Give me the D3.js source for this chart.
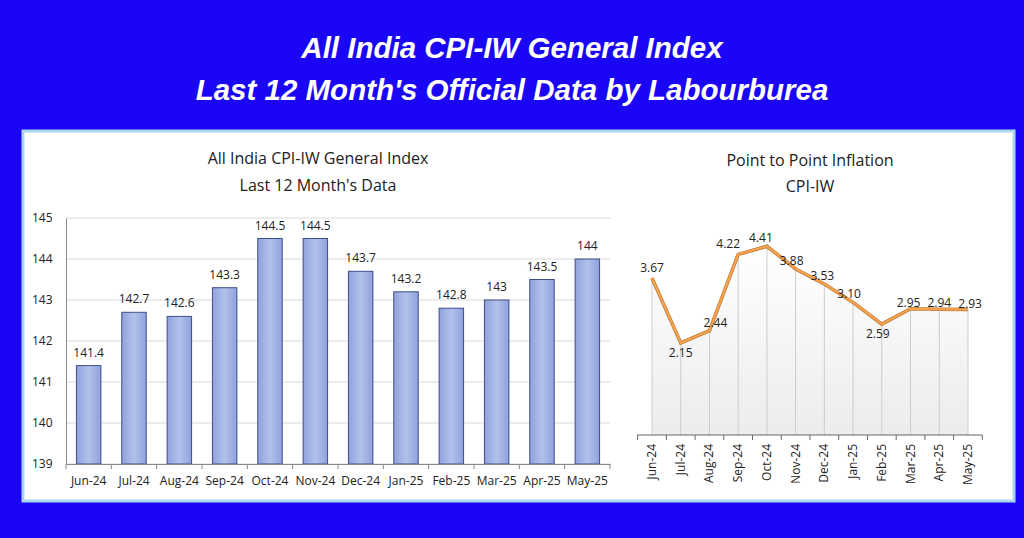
<!DOCTYPE html><html><head><script src="https://cdn.jsdelivr.net/npm/d3@7"></script>
<style>body{margin:0;background:#1a06f5;}</style></head><body><svg id="c" width="1024" height="538"></svg>
<script>
const months=["Jun-24","Jul-24","Aug-24","Sep-24","Oct-24","Nov-24","Dec-24","Jan-25","Feb-25","Mar-25","Apr-25","May-25"];
const indexValues=[141.4,142.7,142.6,143.3,144.5,144.5,143.7,143.2,142.8,143,143.5,144];
const indexLabels=["141.4","142.7","142.6","143.3","144.5","144.5","143.7","143.2","142.8","143","143.5","144"];
const inflation=[3.67,2.15,2.44,4.22,4.41,3.88,3.53,3.10,2.59,2.95,2.94,2.93];
const inflationLabels=["3.67","2.15","2.44","4.22","4.41","3.88","3.53","3.10","2.59","2.95","2.94","2.93"];
const yTicks=[139,140,141,142,143,144,145];

const svg=d3.select("#c");
svg.append("rect").attr("width",1024).attr("height",538).attr("fill","#1a06f5");
const tf="Liberation Sans, Arial, sans-serif";
svg.append("text").attr("x",512).attr("y",58).attr("text-anchor","middle").attr("fill","#fff").attr("font-family",tf).attr("font-weight","bold").attr("font-style","italic").attr("font-size",29.5).text("All India CPI-IW General Index");
svg.append("text").attr("x",512).attr("y",100).attr("text-anchor","middle").attr("fill","#fff").attr("font-family",tf).attr("font-weight","bold").attr("font-style","italic").attr("font-size",29.5).text("Last 12 Month's Official Data by Labourburea");
svg.append("rect").attr("x",23).attr("y",131).attr("width",991).attr("height",370).attr("fill","#fff").attr("stroke","#a8d8f0").attr("stroke-width",3);

const ff="Open Sans, Noto Sans, sans-serif";
const x=d3.scaleBand().domain(months).range([66,610]).paddingInner(0.46).paddingOuter(0.23);
const y=d3.scaleLinear().domain([139,145]).range([464,218]);
const g=svg.append("g");
g.selectAll(".gl").data(yTicks).join("line").attr("x1",66).attr("x2",610).attr("y1",d=>y(d)).attr("y2",d=>y(d)).attr("stroke","#d9d9d9");
const defs=svg.append("defs");
const grad=defs.append("linearGradient").attr("id","bg").attr("x1",0).attr("x2",1);
grad.append("stop").attr("offset",0).attr("stop-color","#8ea2dc");
grad.append("stop").attr("offset",0.5).attr("stop-color","#b3c1ea");
grad.append("stop").attr("offset",1).attr("stop-color","#8ea2dc");
g.selectAll(".b").data(months).join("rect").attr("x",d=>x(d)).attr("width",x.bandwidth()).attr("y",(d,i)=>y(indexValues[i])).attr("height",(d,i)=>y(139)-y(indexValues[i])).attr("fill","url(#bg)").attr("stroke","#3f4f8a").attr("stroke-width",1);
g.selectAll(".bl").data(months).join("text").attr("x",d=>x(d)+x.bandwidth()/2).attr("y",(d,i)=>y(indexValues[i])-9).attr("text-anchor","middle").attr("font-family",ff).attr("font-size",12).attr("fill","#222").text((d,i)=>indexLabels[i]);
const ya=g.append("g").attr("transform","translate(66,0)").call(d3.axisLeft(y).tickValues(yTicks).tickFormat(d3.format("d")).tickSize(0).tickPadding(10));
ya.select(".domain").attr("stroke","#888");
ya.selectAll("text").attr("font-family",ff).attr("font-size",12).attr("fill","#222").attr("text-anchor","start").attr("x",-34);
const xa=g.append("g").attr("transform","translate(0,464)").call(d3.axisBottom(x).tickSize(0).tickPadding(12));
xa.select(".domain").attr("stroke","#888");
xa.selectAll("text").attr("font-family",ff).attr("font-size",12).attr("fill","#222");
g.selectAll(".xt").data(d3.range(13)).join("line").attr("x1",d=>66+d*544/12).attr("x2",d=>66+d*544/12).attr("y1",464).attr("y2",469).attr("stroke","#888");
svg.append("text").attr("x",318).attr("y",164).attr("text-anchor","middle").attr("font-family",ff).attr("font-size",16).attr("fill","#222").text("All India CPI-IW General Index");
svg.append("text").attr("x",318).attr("y",191).attr("text-anchor","middle").attr("font-family",ff).attr("font-size",16).attr("fill","#222").text("Last 12 Month's Data");

const x2=d3.scalePoint().domain(months).range([652,968]);
const y2=d3.scaleLinear().domain([0,5]).range([435,221]);
const gb=defs.append("linearGradient").attr("id","fade").attr("x1",0).attr("x2",0).attr("y1",0).attr("y2",1);
gb.append("stop").attr("offset",0).attr("stop-color","#fff");
gb.append("stop").attr("offset",1).attr("stop-color","#ececec");
const area=d3.area().x((d,i)=>x2(months[i])).y0(435).y1(d=>y2(d));
svg.append("path").datum(inflation).attr("d",area).attr("fill","url(#fade)");
svg.selectAll(".vl").data(months).join("line").attr("x1",d=>x2(d)).attr("x2",d=>x2(d)).attr("y1",435).attr("y2",(d,i)=>y2(inflation[i])).attr("stroke","#ccc");
const ln=d3.line().x((d,i)=>x2(months[i])).y(d=>y2(d));
svg.append("path").datum(inflation).attr("d",ln).attr("fill","none").attr("stroke","#c07a35").attr("stroke-width",3.5);
svg.append("path").datum(inflation).attr("d",ln).attr("fill","none").attr("stroke","#f7a550").attr("stroke-width",2);
const off=[[0,-6],[0,14],[6,-4],[-10,-6],[-6,-4],[-4,-4],[-2,-4],[-4,-4],[-4,14],[-2,-2],[0,-2],[2,-2]];
svg.selectAll(".ll").data(months).join("text").attr("x",(d,i)=>x2(d)+off[i][0]).attr("y",(d,i)=>y2(inflation[i])+off[i][1]).attr("text-anchor","middle").attr("font-family",ff).attr("font-size",12).attr("fill","#222").text((d,i)=>inflationLabels[i]);
svg.append("line").attr("x1",637).attr("x2",982).attr("y1",435).attr("y2",435).attr("stroke","#666");
const st=x2.step();
svg.selectAll(".rt").data(d3.range(13)).join("line").attr("x1",d=>652-st/2+d*st).attr("x2",d=>652-st/2+d*st).attr("y1",435).attr("y2",440).attr("stroke","#666");
svg.selectAll(".rx").data(months).join("text").attr("transform",d=>`translate(${x2(d)+4},444) rotate(-90)`).attr("text-anchor","end").attr("font-family",ff).attr("font-size",12).attr("fill","#222").text(d=>d);
svg.append("text").attr("x",810).attr("y",166).attr("text-anchor","middle").attr("font-family",ff).attr("font-size",16).attr("fill","#222").text("Point to Point Inflation");
svg.append("text").attr("x",810).attr("y",192).attr("text-anchor","middle").attr("font-family",ff).attr("font-size",16).attr("fill","#222").text("CPI-IW");
</script></body></html>
